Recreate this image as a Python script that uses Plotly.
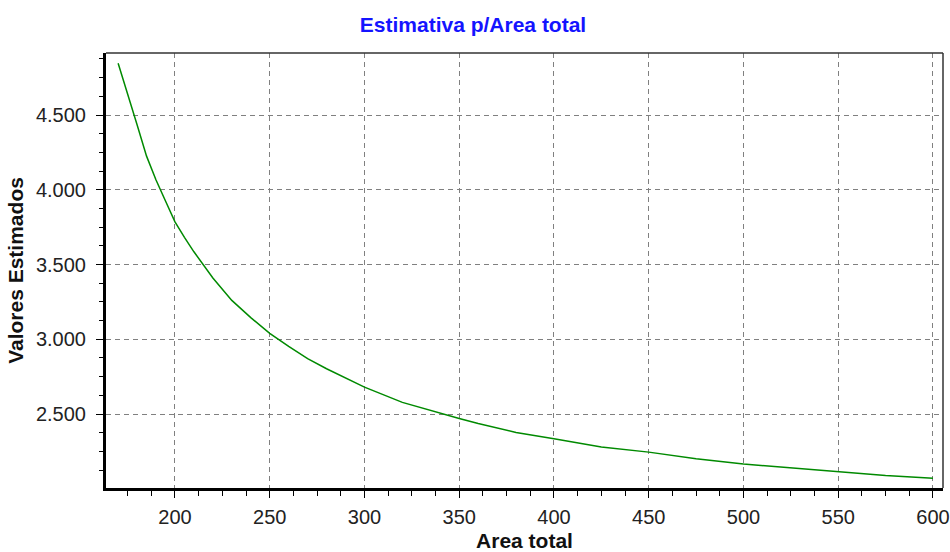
import plotly.graph_objects as go

# Data
area_total = [170, 175, 180, 185, 190, 195, 200, 205, 210, 220, 230, 240, 250,
              260, 270, 280, 290, 300, 320, 340, 350, 360, 380, 400, 425, 450,
              475, 500, 525, 550, 575, 600]
valores = [4846, 4645, 4435, 4225, 4065, 3925, 3785, 3682, 3585, 3410, 3260,
           3145, 3040, 2952, 2870, 2803, 2740, 2680, 2578, 2503, 2470, 2436,
           2377, 2335, 2280, 2245, 2200, 2165, 2138, 2115, 2088, 2070]

title_text = "Estimativa p/Area total"
x_title = "Area total"
y_title = "Valores Estimados"

FONT = "Liberation Sans, Arial, sans-serif"

W, H = 950, 552

fig = go.Figure()
fig.add_trace(go.Scatter(
    x=area_total, y=valores, mode="lines",
    line=dict(color="#008a00", width=1.5),
    showlegend=False, hoverinfo="x+y",
))

fig.update_layout(
    width=W, height=H,
    margin=dict(l=106, r=7, t=53, b=64),
    paper_bgcolor="white", plot_bgcolor="white",
    separators=",.",
    font=dict(family=FONT, size=20, color="#222222"),
    title=dict(text=title_text, x=473 / W, xref="container", xanchor="center",
               y=1 - 25 / H, yref="container", yanchor="middle",
               font=dict(family=FONT, size=21, color="#1414ff", weight="bold")),
    xaxis=dict(
        range=[163.6, 605.3], tick0=200, dtick=50,
        showline=True, linewidth=3, linecolor="black",
        ticks="outside", ticklen=7, tickwidth=1, tickcolor="black",
        ticklabelstandoff=2,
        showgrid=True, gridcolor="#808080", gridwidth=1, griddash="5px,4px",
        zeroline=False,
        minor=dict(ticks="outside", ticklen=5, tickwidth=1, tickcolor="black",
                   dtick=12.5, tick0=200, showgrid=False),
        title=dict(text=x_title, standoff=7,
                   font=dict(family=FONT, size=21, color="#111111", weight="bold")),
        automargin=False,
        tickfont=dict(family=FONT, size=20, color="#222222"),
    ),
    yaxis=dict(
        range=[2005, 4915], tick0=2500, dtick=500, tickformat=",d",
        showline=True, linewidth=3, linecolor="black",
        ticks="outside", ticklen=7, tickwidth=1, tickcolor="black",
        ticklabelstandoff=6,
        showgrid=True, gridcolor="#808080", gridwidth=1, griddash="5px,4px",
        zeroline=False,
        minor=dict(ticks="outside", ticklen=4, tickwidth=1, tickcolor="black",
                   dtick=125, tick0=2500, showgrid=False),
        title=dict(text=y_title, standoff=7,
                   font=dict(family=FONT, size=21, color="#111111", weight="bold")),
        automargin=False,
        tickfont=dict(family=FONT, size=20, color="#222222"),
    ),
)

# thin top and right frame lines
fig.add_shape(type="line", xref="paper", yref="paper", x0=0, x1=1, y0=1, y1=1,
              line=dict(color="#333333", width=1.5))
fig.add_shape(type="line", xref="paper", yref="paper", x0=1, x1=1, y0=0, y1=1,
              line=dict(color="#333333", width=1.5))

# remove the browser's default 8px body margin so the figure fills the window
fig.write_html("out.html",
               config={"displayModeBar": False},
               post_script="document.body.style.margin='0px';"
                           "document.body.style.overflow='hidden';")
